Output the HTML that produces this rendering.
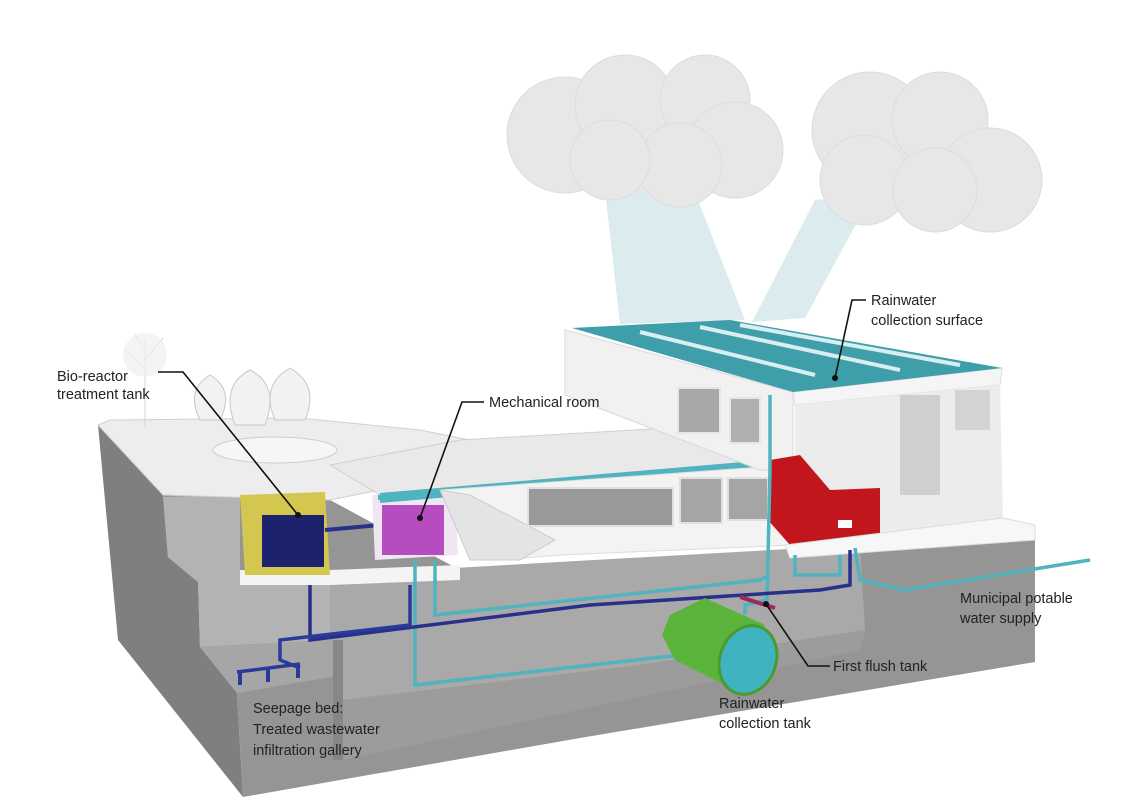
<!DOCTYPE html>
<html><head><meta charset="utf-8"><style>
html,body{margin:0;padding:0;background:#fff;}
svg{display:block;}
text{font-family:"Liberation Sans",sans-serif;font-size:14.5px;fill:#222;}
</style></head><body>
<svg width="1129" height="810" viewBox="0 0 1129 810" xmlns="http://www.w3.org/2000/svg">
<!-- beams -->
<polygon points="605,190 690,180 745,320 620,324" fill="#dcebee"/>
<polygon points="815,200 872,195 805,318 752,322" fill="#dcebee"/>
<!-- clouds -->
<g fill="#e7e7e7" stroke="#dcdcdc" stroke-width="1">
<circle cx="565" cy="135" r="58"/><circle cx="625" cy="105" r="50"/><circle cx="705" cy="100" r="45"/>
<circle cx="735" cy="150" r="48"/><circle cx="680" cy="165" r="42"/><circle cx="610" cy="160" r="40"/>
<circle cx="870" cy="130" r="58"/><circle cx="940" cy="120" r="48"/><circle cx="990" cy="180" r="52"/>
<circle cx="865" cy="180" r="45"/><circle cx="935" cy="190" r="42"/>
</g>
<!-- ground block -->
<polygon points="98,425 163,495 168,557 198,582 200,647 237,693 243,797 118,640" fill="#7f7f7f"/>
<polygon points="163,495 330,500 460,570 790,555 1035,525 1035,662 580,738 243,797 237,693 200,647 198,582 168,557" fill="#959595"/>
<!-- terraces/excavation -->
<polygon points="163,497 240,495 240,570 330,585 330,640 200,647 198,582 168,557" fill="#b3b3b3"/>
<polygon points="200,647 330,640 343,640 343,675 237,693" fill="#a6a6a6"/>
<polygon points="330,575 860,545 865,630 640,665 343,700 343,640 330,640" fill="#a9a9a9"/>
<polygon points="343,700 640,665 865,630 860,650 343,760" fill="#9c9c9c"/>
<polygon points="333,640 343,640 343,760 333,760" fill="#878787"/>
<!-- top ground surface -->
<polygon points="98,425 110,420 300,418 420,430 470,440 460,480 380,490 330,500 163,495" fill="#ededed" stroke="#d0d0d0"/>
<ellipse cx="275" cy="450" rx="62" ry="13" fill="#f6f6f6" stroke="#ccc"/>
<!-- pods & tree -->
<g fill="#f2f2f2" stroke="#c8c8c8">
<path d="M200,420 q-15,-30 10,-45 q25,15 10,45z"/><path d="M235,425 q-15,-40 15,-55 q30,15 15,55z"/><path d="M275,420 q-15,-35 15,-52 q30,17 15,52z"/>
</g>
<g stroke="#d5d5d5" fill="none"><path d="M145,428 L145,340 M145,370 l-20,-20 M145,360 l18,-22 M145,350 l-10,-15"/></g>
<circle cx="145" cy="355" r="22" fill="#efefef" opacity="0.7"/>
<!-- slabs under tanks -->
<polygon points="240,570 330,570 460,565 460,580 330,585 240,585" fill="#f4f4f4"/>
<!-- bio tank -->
<polygon points="240,495 325,492 330,575 245,575" fill="#d3c74f"/>
<rect x="262" y="515" width="62" height="52" fill="#1c226e"/>
<line x1="325" y1="530" x2="380" y2="525" stroke="#28308a" stroke-width="4"/>
<!-- mechanical -->
<polygon points="372,495 455,492 458,555 375,560" fill="#efe6f2"/>
<rect x="382" y="505" width="62" height="50" fill="#b54cc0"/>
<polygon points="378,490 460,485 460,495 378,500" fill="#4fb3c0"/>
<!-- lower building -->
<polygon points="330,465 460,440 720,425 740,445 790,448 790,465 440,495 380,495" fill="#e9e9e9" stroke="#d0d0d0"/>
<polygon points="380,493 790,458 790,468 380,503" fill="#4fb3c0"/>
<polygon points="440,490 790,465 795,545 560,555 500,560" fill="#f3f3f3" stroke="#ddd"/>
<polygon points="440,490 470,495 555,540 520,560 470,560" fill="#e4e4e4" stroke="#ccc"/>
<rect x="528" y="488" width="145" height="38" fill="#9a9a9a" stroke="#e0e0e0" stroke-width="2"/>
<rect x="680" y="478" width="42" height="45" fill="#a5a5a5" stroke="#e0e0e0" stroke-width="2"/>
<rect x="728" y="478" width="40" height="42" fill="#a5a5a5" stroke="#e0e0e0" stroke-width="2"/>
<!-- upper block -->
<polygon points="565,330 793,392 793,470 760,470 565,395" fill="#f1f1f1" stroke="#d8d8d8"/>
<rect x="678" y="388" width="42" height="45" fill="#a8a8a8" stroke="#e6e6e6" stroke-width="2"/>
<rect x="730" y="398" width="30" height="45" fill="#b0b0b0" stroke="#e6e6e6" stroke-width="2"/>
<polygon points="793,392 1002,368 1000,385 795,405" fill="#f5f5f5" stroke="#ddd"/>
<polygon points="795,405 1000,385 1003,520 795,545" fill="#ececec"/>
<rect x="900" y="395" width="40" height="100" fill="#cfcfcf"/><rect x="955" y="390" width="35" height="40" fill="#d3d3d3"/>
<polygon points="572,328 730,320 1002,368 793,392" fill="#3e9ea9"/>
<g stroke="#d9eef0" stroke-width="4" fill="none"><path d="M640,332 L815,375"/><path d="M700,327 L900,370"/><path d="M740,325 L960,365"/></g>
<!-- red room -->
<polygon points="770,460 800,455 830,490 880,488 880,538 790,545 768,520" fill="#c1161c"/>
<rect x="838" y="520" width="14" height="8" fill="#fff"/>
<!-- floor slab right -->
<polygon points="785,545 1003,518 1035,525 1035,540 790,558" fill="#f7f7f7" stroke="#ddd"/>
<!-- pipes -->
<g fill="none" stroke-width="3.5">
<path d="M770,395 L770,470 L767,600 L745,605 L745,615" stroke="#4fb3c0"/>
<path d="M415,560 L415,685 L680,655" stroke="#4fb3c0"/>
<path d="M435,560 L435,615 L760,580 L770,575" stroke="#4fb3c0"/>
<path d="M795,555 L795,575 L840,575 L840,555" stroke="#4fb3c0"/>
<path d="M855,548 L860,580 L905,590 L1090,560" stroke="#4fb3c0"/>
<path d="M310,585 L310,640 L590,605 L820,590 L850,585 L850,550" stroke="#28308a"/>
<path d="M410,585 L410,625 L280,640 L280,660 L300,668 M237,672 L300,664" stroke="#2a3a9a"/>
<path d="M240,672 L240,685 M268,668 L268,682 M298,664 L298,678" stroke="#2a3a9a" stroke-width="4"/>
</g>
<!-- green tank -->
<polygon points="670,615 705,598 765,625 735,690 675,660 662,635" fill="#5ab43c"/>
<ellipse cx="748" cy="660" rx="28" ry="35" fill="#3fb4c0" stroke="#4a9a30" stroke-width="3" transform="rotate(20 748 660)"/>
<line x1="740" y1="597" x2="775" y2="608" stroke="#a0285a" stroke-width="4"/>
<!-- leaders -->
<g stroke="#111" stroke-width="1.6" fill="none">
<path d="M158,372 L183,372 L298,515"/>
<path d="M484,402 L462,402 L420,518"/>
<path d="M866,300 L852,300 L835,378"/>
<path d="M830,666 L808,666 L766,604"/>
</g>
<g fill="#111"><circle cx="298" cy="515" r="3"/><circle cx="420" cy="518" r="3"/><circle cx="835" cy="378" r="3"/><circle cx="766" cy="604" r="3"/></g>
<!-- labels -->
<text x="57" y="381">Bio-reactor</text><text x="57" y="399">treatment tank</text>
<text x="489" y="407">Mechanical room</text>
<text x="871" y="305">Rainwater</text><text x="871" y="325">collection surface</text>
<text x="960" y="603">Municipal potable</text><text x="960" y="623">water supply</text>
<text x="833" y="671">First flush tank</text>
<text x="719" y="708">Rainwater</text><text x="719" y="728">collection tank</text>
<text x="253" y="713" fill="#333">Seepage bed:</text><text x="253" y="734">Treated wastewater</text><text x="253" y="755">infiltration gallery</text>
</svg>
</body></html>
